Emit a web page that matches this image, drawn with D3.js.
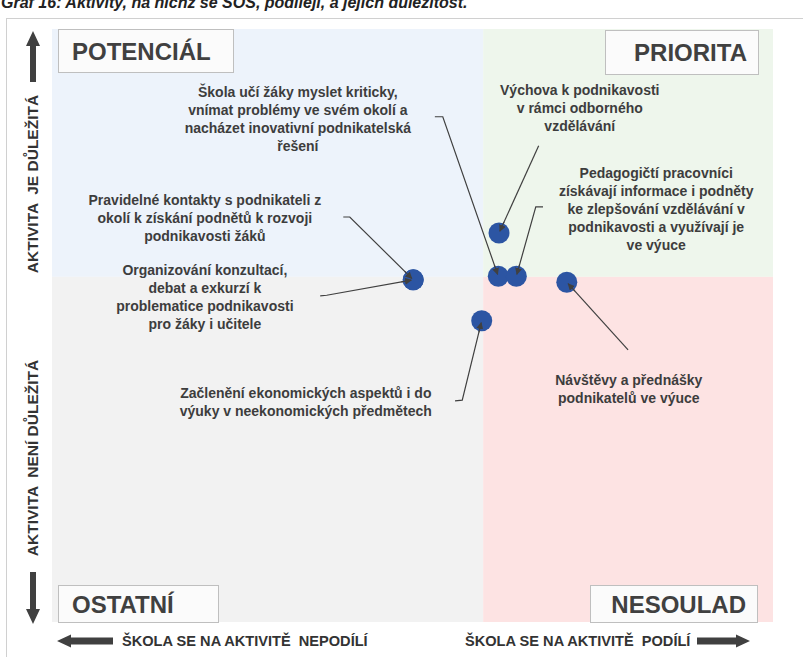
<!DOCTYPE html>
<html>
<head>
<meta charset="utf-8">
<script src="https://cdn.jsdelivr.net/npm/d3@7"></script>
<style>
  body { margin: 0; background: #fff; }
  svg { display: block; }
  .lbl { font-family: "Liberation Sans", Arial, sans-serif; font-size: 14px; font-weight: bold; fill: #3d3d3d; }
  .quad { font-family: "Liberation Sans", Arial, sans-serif; font-size: 24px; font-weight: bold; fill: #404040; }
  .axlbl { font-family: "Liberation Sans Narrow", "Arial Narrow", sans-serif; font-size: 14.6px; font-weight: bold; fill: #333; }
  .axlbl.v { font-size: 15.5px; }
</style>
</head>
<body>
<svg width="803" height="657"></svg>
<script>
// activities (each label split into its lines)
var activities = [
    ["Výchova k podnikavosti", "v rámci odborného", "vzdělávání"],
    ["Škola učí žáky myslet kriticky,", "vnímat problémy ve svém okolí a", "nacházet inovativní podnikatelská", "řešení"],
    ["Pedagogičtí pracovníci", "získávají informace i podněty", "ke zlepšování vzdělávání v", "podnikavosti a využívají je", "ve výuce"],
    ["Pravidelné kontakty s podnikateli z", "okolí k získání podnětů k rozvoji", "podnikavosti žáků"],
    ["Organizování konzultací,", "debat a exkurzí k", "problematice podnikavosti", "pro žáky i učitele"],
    ["Začlenění ekonomických aspektů i do", "výuky v neekonomických předmětech"],
    ["Návštěvy a přednášky", "podnikatelů ve výuce"]
];
// x = participation of the school, y = importance of the activity
var participation = [62.0, 61.9, 64.4, 50.1, 50.1, 59.6, 71.4];
var importance = [65.6, 58.3, 58.3, 57.7, 57.7, 50.8, 57.3];

var xSplit = 59.8, ySplit = 58.2;

var quadrants = ["POTENCIÁL", "PRIORITA", "OSTATNÍ", "NESOULAD"];
var yLabels = ["AKTIVITA  JE DŮLEŽITÁ", "AKTIVITA  NENÍ DŮLEŽITÁ"];
var xLabels = ["ŠKOLA SE NA AKTIVITĚ  NEPODÍLÍ", "ŠKOLA SE NA AKTIVITĚ  PODÍLÍ"];
var title = "Graf 16: Aktivity, na nichž se SOŠ, podílejí, a jejich důležitost.";

/* layout of the callouts, in data units: text centre, first line, leader path */
var callouts = [
    {tx: 73.2, ty: 89.7, path: [[67.5, 80.3]]},
    {tx: 34.1, ty: 89.4, path: [[53.1, 85.2], [54.2, 85.2]]},
    {tx: 83.8, ty: 75.7, path: [[68.1, 70.0], [67.1, 70.0]]},
    {tx: 21.2, ty: 71.2, path: [[40.4, 68.3], [41.3, 68.3]]},
    {tx: 21.2, ty: 59.4, path: [[37.2, 55.0], [38.1, 55.1]]},
    {tx: 35.2, ty: 38.6, path: [[55.9, 37.3], [56.9, 37.4]]},
    {tx: 80.0, ty: 40.8, path: [[79.9, 45.9]]}
];

var svg = d3.select("svg"),
    margin = {top: 29, right: 30, bottom: 35, left: 52},
    width = 803 - margin.left - margin.right,
    height = 657 - margin.top - margin.bottom;

var x = d3.scaleLinear().domain([0, 100]).range([margin.left, margin.left + width]),
    y = d3.scaleLinear().domain([0, 100]).range([margin.top + height, margin.top]);

// title (cut by the top edge in the original)
svg.append("text")
    .attr("x", 1).attr("y", 8)
    .style("font", "italic bold 16px 'Liberation Sans', Arial, sans-serif")
    .attr("fill", "#222")
    .text(title);

// outer frame
svg.append("rect")
    .attr("x", 6.5).attr("y", 18.5)
    .attr("width", 820).attr("height", 700)
    .attr("fill", "none")
    .attr("stroke", "#d0d0d0");

// quadrant backgrounds
var quadData = [
    {x0: 0, x1: xSplit, y0: ySplit, y1: 100, fill: "#edf3fb"},
    {x0: xSplit, x1: 100, y0: ySplit, y1: 100, fill: "#eef6ec"},
    {x0: 0, x1: xSplit, y0: 0, y1: ySplit, fill: "#f2f2f2"},
    {x0: xSplit, x1: 100, y0: 0, y1: ySplit, fill: "#fde3e3"}
];
svg.selectAll(".bg")
    .data(quadData)
    .enter().append("rect")
    .attr("class", "bg")
    .attr("x", function (d) { return x(d.x0); })
    .attr("y", function (d) { return y(d.y1); })
    .attr("width", function (d) { return x(d.x1) - x(d.x0); })
    .attr("height", function (d) { return y(d.y0) - y(d.y1); })
    .attr("fill", function (d) { return d.fill; });

// quadrant name boxes
var boxes = [
    {name: quadrants[0], x: 58, y: 29, w: 175, h: 43, anchor: "start"},
    {name: quadrants[1], x: 605, y: 30, w: 153, h: 44, anchor: "end"},
    {name: quadrants[2], x: 58, y: 585, w: 160, h: 37, anchor: "start"},
    {name: quadrants[3], x: 590, y: 585, w: 167, h: 37, anchor: "end"}
];
var qb = svg.selectAll(".qbox").data(boxes).enter().append("g").attr("class", "qbox");
qb.append("rect")
    .attr("x", function (d) { return d.x + 0.5; })
    .attr("y", function (d) { return d.y + 0.5; })
    .attr("width", function (d) { return d.w; })
    .attr("height", function (d) { return d.h; })
    .attr("fill", "#fbfbfb")
    .attr("stroke", "#bfbfbf");
qb.append("text")
    .attr("class", "quad")
    .attr("text-anchor", function (d) { return d.anchor; })
    .attr("x", function (d) { return d.anchor == "start" ? d.x + 14 : d.x + d.w - 11; })
    .attr("y", function (d) { return d.y + d.h / 2 + 9; })
    .text(function (d) { return d.name; });

// big block arrows for the axes
function blockArrow(x1, y1, x2, y2, shaft, head, headLen) {
    var dx = x2 - x1, dy = y2 - y1, len = Math.sqrt(dx * dx + dy * dy);
    var ux = dx / len, uy = dy / len, px = -uy, py = ux;
    var bx = x2 - ux * headLen, by = y2 - uy * headLen;
    var pts = [
        [x1 + px * shaft / 2, y1 + py * shaft / 2],
        [bx + px * shaft / 2, by + py * shaft / 2],
        [bx + px * head / 2, by + py * head / 2],
        [x2, y2],
        [bx - px * head / 2, by - py * head / 2],
        [bx - px * shaft / 2, by - py * shaft / 2],
        [x1 - px * shaft / 2, y1 - py * shaft / 2]
    ];
    svg.append("path")
        .attr("d", "M" + pts.join("L") + "Z")
        .attr("fill", "#404040");
}
blockArrow(33, 82, 33, 31, 6, 14, 15);
blockArrow(33, 572, 33, 624, 6, 14, 15);
blockArrow(113, 641, 57, 641, 7, 13, 14);
blockArrow(697, 641, 750, 641, 7, 13, 14);

// axis captions
svg.selectAll(".ylab")
    .data(yLabels)
    .enter().append("text")
    .attr("class", "axlbl v")
    .attr("text-anchor", "middle")
    .attr("transform", function (d, i) { return "translate(38," + (i ? 458 : 184) + ") rotate(-90)"; })
    .style("white-space", "pre")
    .text(function (d) { return d; });

svg.selectAll(".xlab")
    .data(xLabels)
    .enter().append("text")
    .attr("class", "axlbl")
    .attr("x", function (d, i) { return i ? 465 : 122; })
    .attr("y", 646)
    .style("white-space", "pre")
    .text(function (d) { return d; });

// leader lines
svg.append("defs").append("marker")
    .attr("id", "tip")
    .attr("viewBox", "0 0 10 10")
    .attr("refX", 9).attr("refY", 5)
    .attr("markerWidth", 7).attr("markerHeight", 7)
    .attr("markerUnits", "userSpaceOnUse")
    .attr("orient", "auto")
    .append("path")
    .attr("d", "M0,0L10,5L0,10Z")
    .attr("fill", "#404040");

var lineGen = d3.line();
svg.selectAll(".leader")
    .data(callouts)
    .enter().append("path")
    .attr("class", "leader")
    .attr("d", function (d, i) {
        var pts = d.path.map(function (p) { return [x(p[0]), y(p[1])]; });
        var last = pts[pts.length - 1];
        var px = x(participation[i]), py = y(importance[i]);
        var dx = px - last[0], dy = py - last[1], l = Math.sqrt(dx * dx + dy * dy);
        pts.push([px - dx / l * 2, py - dy / l * 2]);
        return lineGen(pts);
    })
    .attr("fill", "none")
    .attr("stroke", "#404040")
    .attr("stroke-width", 1.2)
    .attr("marker-end", "url(#tip)");

// points
svg.selectAll(".dot")
    .data(participation)
    .enter().append("circle")
    .attr("class", "dot")
    .attr("cx", function (d) { return x(d); })
    .attr("cy", function (d, i) { return y(importance[i]); })
    .attr("r", 10.5)
    .attr("fill", "#2c55a3");

// re-draw arrow tips above the dots
svg.selectAll(".tipover")
    .data(callouts)
    .enter().append("path")
    .attr("class", "tipover")
    .attr("d", function (d, i) {
        var last = d.path[d.path.length - 1];
        var sx = x(last[0]), sy = y(last[1]);
        var px = x(participation[i]), py = y(importance[i]);
        var dx = px - sx, dy = py - sy, l = Math.sqrt(dx * dx + dy * dy);
        return lineGen([[px - dx / l * 12, py - dy / l * 12], [px - dx / l * 2, py - dy / l * 2]]);
    })
    .attr("fill", "none")
    .attr("stroke", "#404040")
    .attr("stroke-width", 1.2)
    .attr("marker-end", "url(#tip)");

// callout texts
var labels = svg.selectAll(".callout")
    .data(callouts)
    .enter().append("text")
    .attr("class", "lbl")
    .attr("text-anchor", "middle");
labels.selectAll("tspan")
    .data(function (d, i) {
        return activities[i].map(function (t) { return {t: t, cx: d.tx, cy: d.ty}; });
    })
    .enter().append("tspan")
    .attr("x", function (d) { return x(d.cx); })
    .attr("y", function (d, j) { return y(d.cy) + 5 + j * 18; })
    .text(function (d) { return d.t; });
</script>
</body>
</html>
